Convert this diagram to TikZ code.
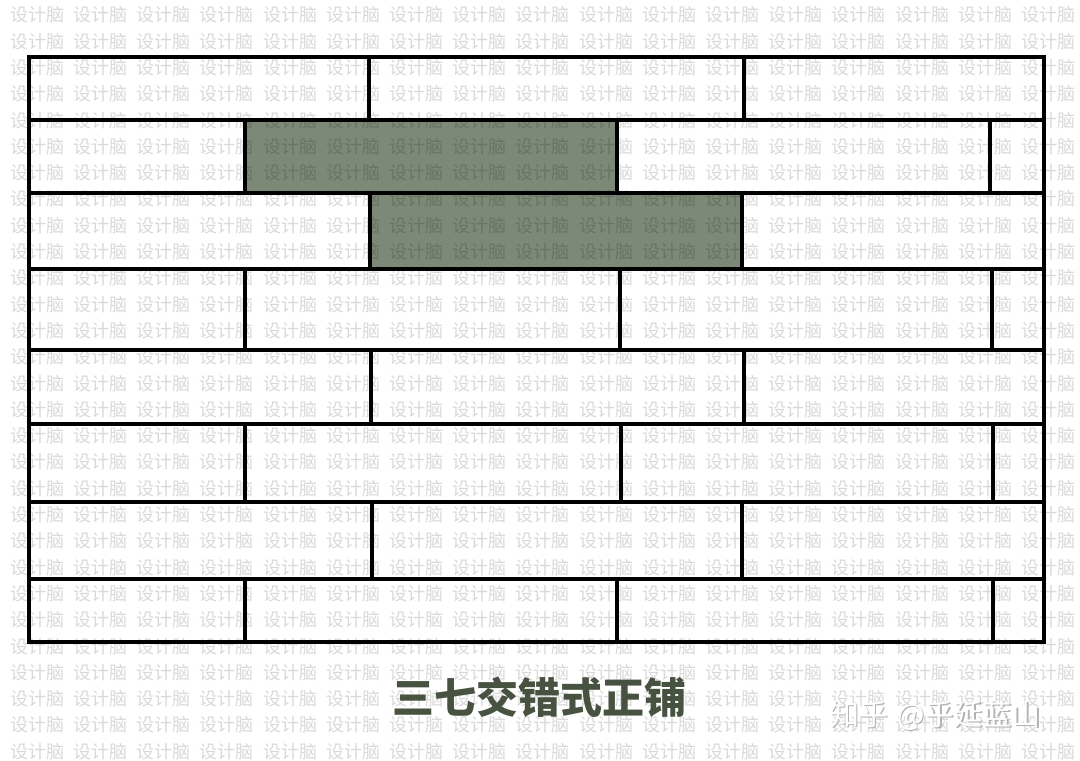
\documentclass[tikz,border=0pt]{standalone}
\usepackage{fontspec}
\newfontfamily\cjk{Noto Sans CJK SC}
\definecolor{tile}{RGB}{123,137,118}
\definecolor{titlecol}{RGB}{72,82,64}
\tikzset{
  joint/.style={line width=4.8pt, draw=black, line cap=rect},
  wmark/.style={anchor=west, inner sep=0pt, text=black, text opacity=0.15, font=\cjk\fontsize{18}{18}\selectfont},
  greentile/.style={fill=tile}
}
\begin{document}
\begin{tikzpicture}[x=1pt,y=-1pt]
\useasboundingbox[fill=white] (0,0) rectangle (1080,761);
% green tiles
\fill[greentile] (245,120) rectangle (617,193);
\fill[greentile] (370,193) rectangle (742,269);
% watermark
\foreach \i in {0,...,16}{
  \foreach \j in {0,...,28}{
    \node[wmark] (wm-\i-\j) at ({10+63.2*\i},{15+26.3*\j}) {设计脑};
  }
}
% frame and joints
\draw[joint] (29,57) rectangle (1044,642);
\foreach \y in {120,193,269,350,424,502,579}
  \draw[joint] (29,\y) -- (1044,\y);
% vertical joints: x / top / bottom
\foreach \x/\a/\b in {369/57/120, 744/57/120,
                      245/120/193, 617/120/193, 990/120/193,
                      370/193/269, 742/193/269,
                      245/269/350, 620/269/350, 992/269/350,
                      371/350/424, 744/350/424,
                      245/424/502, 621/424/502, 993/424/502,
                      372/502/579, 742/502/579,
                      245/579/642, 617/579/642, 993/579/642}
  \draw[joint] (\x,\a) -- (\x,\b);
% title
\node[inner sep=0pt, text=titlecol, font=\cjk\bfseries\fontsize{42}{42}\selectfont] (title) at (539,697) {三七交错式正铺};
% zhihu mark
\node[inner sep=0pt, text=black!30, font=\cjk\fontsize{29}{29}\selectfont] (zhshadow) at (937,717) {知乎\hspace{0.3em}@乎延蓝山};
\node[inner sep=0pt, text=white, font=\cjk\fontsize{29}{29}\selectfont] (zh) at (935.8,715.8) {知乎\hspace{0.3em}@乎延蓝山};
\end{tikzpicture}
\end{document}
